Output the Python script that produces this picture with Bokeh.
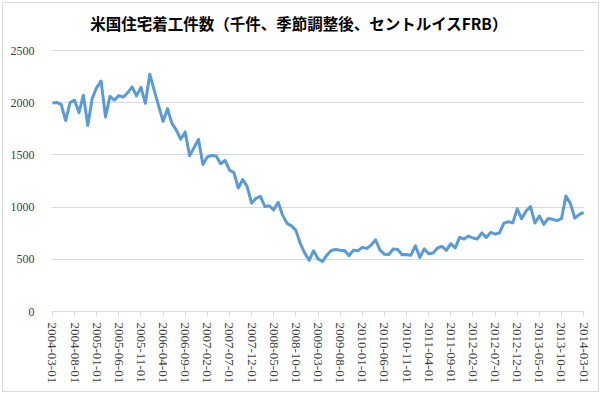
import pandas as pd
from bokeh.plotting import figure
from bokeh.models import FixedTicker, Range1d, ColumnDataSource, Label
from bokeh.embed import file_html
from bokeh.resources import INLINE

# Monthly dates 2004-03 .. 2014-03
months = [d.strftime("%Y-%m-%d") for d in pd.date_range("2004-03-01", "2014-03-01", freq="MS")]

# US housing starts (thousands, SAAR)
starts = [
    1998, 2003, 1981, 1828, 2002, 2024, 1905, 2072, 1782, 2042,            # 2004 Mar-Dec
    2144, 2207, 1864, 2061, 2025, 2068, 2054, 2095, 2151, 2065, 2147, 1994,  # 2005
    2273, 2119, 1969, 1821, 1942, 1802, 1737, 1650, 1720, 1491, 1570, 1649,  # 2006
    1409, 1480, 1495, 1490, 1415, 1448, 1354, 1330, 1183, 1264, 1197, 1037,  # 2007
    1084, 1103, 1005, 1013, 973, 1046, 923, 844, 820, 777, 652, 560,         # 2008
    490, 582, 505, 478, 540, 585, 594, 586, 585, 534, 588, 581,              # 2009
    614, 604, 636, 687, 588, 549, 546, 599, 594, 543, 545, 539,              # 2010
    630, 517, 600, 554, 561, 608, 623, 585, 650, 610, 711, 694,              # 2011
    723, 704, 695, 753, 708, 757, 741, 754, 847, 860, 849, 983,              # 2012
    888, 962, 1005, 847, 915, 835, 891, 883, 870, 889, 1105, 1036,           # 2013
    894, 928, 950,                                                           # 2014 Jan-Mar
]

y_ticks = [0, 500, 1000, 1500, 2000, 2500]
label_step = 5
title_text = "米国住宅着工件数（千件、季節調整後、セントルイスFRB）"

idx = list(range(len(months)))
src = ColumnDataSource(dict(x=idx, y=starts, date=months))

W, H = 597, 390
ML, MR, MT, MB = 48, 16, 5, 82
plot_h = H - MT - MB          # frame height in px
axis_px = 261                 # px spanned by 0..2500
y_top = 2500 * plot_h / axis_px

p = figure(width=W, height=H, output_backend="svg", toolbar_location=None,
           x_range=Range1d(-0.2, len(months) - 0.8), y_range=Range1d(0, y_top),
           min_border_left=ML, min_border_right=MR, min_border_top=MT, min_border_bottom=MB,
           background_fill_color="white", border_fill_color="white")
p.outline_line_color = None

# title drawn inside the (tall) frame, above the 2500 gridline
title = Label(x=W / 2 - ML - 3, y=plot_h - 14, x_units="screen", y_units="screen",
              text=title_text, text_align="center", text_baseline="middle",
              text_font="Noto Sans CJK JP", text_font_size="15.5px",
              text_font_style="bold", text_color="#000000")
p.add_layout(title)

p.line("x", "y", source=src, line_color="#5B9BD5", line_width=3, line_join="round")

p.xgrid.grid_line_color = None
p.ygrid.grid_line_color = "#d9d9d9"
p.ygrid.grid_line_width = 1

p.yaxis.ticker = FixedTicker(ticks=y_ticks)
p.yaxis.axis_line_color = None
p.yaxis.major_tick_line_color = None
p.yaxis.minor_tick_line_color = None
p.yaxis.major_label_text_font = "Liberation Serif"
p.yaxis.major_label_text_font_size = "12px"
p.yaxis.major_label_text_color = "#404040"
p.yaxis.major_label_standoff = 11

xt = list(range(0, len(months), label_step))
p.xaxis.ticker = FixedTicker(ticks=xt)
p.xaxis.major_label_overrides = {i: months[i] for i in xt}
p.xaxis.major_label_orientation = "vertical"
p.xaxis.major_label_text_font = "Liberation Serif"
p.xaxis.major_label_text_font_size = "13px"
p.xaxis.major_label_text_color = "#404040"
p.xaxis.axis_line_color = "#d9d9d9"
p.xaxis.major_tick_line_color = "#d9d9d9"
p.xaxis.major_tick_in = 0
p.xaxis.major_tick_out = 5
p.xaxis.minor_tick_line_color = None
p.xaxis.major_label_standoff = 6

p.styles = {"border": "1px solid #d9d9d9", "margin": "2px"}

open("out.html", "w").write(file_html(p, INLINE))
